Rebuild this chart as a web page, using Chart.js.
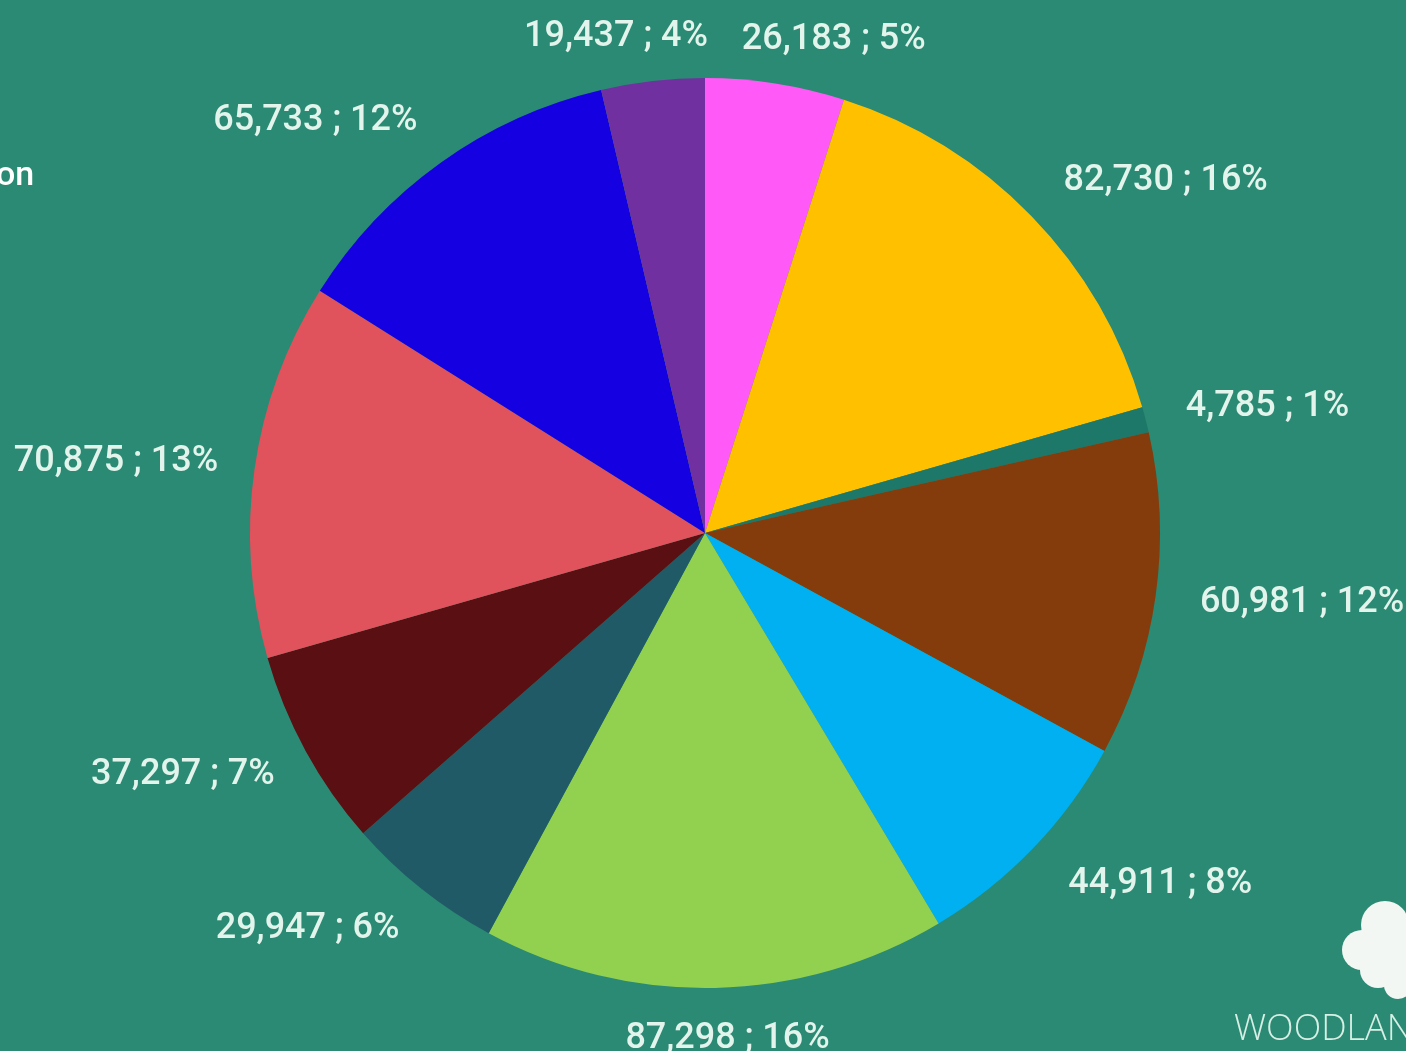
<!DOCTYPE html>
<html>
<head>
<meta charset="utf-8">
<script src="https://cdn.jsdelivr.net/npm/chart.js@4"></script>
<style>
  html, body { margin: 0; padding: 0; background: #2a8a73; overflow: hidden; }
  #wrap { width: 1406px; height: 1051px; position: relative; }
</style>
</head>
<body>
<div id="wrap"><canvas id="grafica" width="1406" height="1051"></canvas></div>
<script>
// Datos del gráfico (sentido horario desde arriba)
const valores = [26183, 82730, 4785, 60981, 44911, 87298, 29947, 37297, 70875, 65733, 19437];
const porcentajes = ['5%', '16%', '1%', '12%', '8%', '16%', '6%', '7%', '13%', '12%', '4%'];
const colores = ['#ff5af7', '#ffc000', '#1d786a', '#843c0c', '#00b0f0', '#92d050',
                 '#215a67', '#5a0f12', '#e0525c', '#1400e0', '#7030a0'];

const fmt = n => n.toLocaleString('en-US');

// pequeños ajustes de posición de etiquetas (para evitar choques, como en el original)
const ajusteX = { 0: 28, 2: -9, 5: 8, 7: 19, 8: 8, 9: -12, 10: -14 };
const ajusteY = { 0: 7, 10: 7 };

// Etiquetas fuera del pastel
const etiquetas = {
  id: 'etiquetas',
  afterDatasetsDraw(chart) {
    const ctx = chart.ctx;
    const meta = chart.getDatasetMeta(0);
    ctx.save();
    ctx.font = '500 36px Roboto, sans-serif';
    ctx.fillStyle = '#e2f4ec';
    ctx.textBaseline = 'middle';
    ctx.textAlign = 'center';
    meta.data.forEach((arc, i) => {
      const p = arc.getProps(['x', 'y', 'startAngle', 'endAngle', 'outerRadius'], true);
      const a = (p.startAngle + p.endAngle) / 2;
      const r = p.outerRadius + 36;
      const px = p.x + Math.cos(a) * r;
      const py = p.y + Math.sin(a) * r;
      const txt = fmt(valores[i]) + ' ; ' + porcentajes[i];
      const w = ctx.measureText(txt).width;
      const h = 30;
      // las etiquetas en diagonal van un poco más afuera
      const extra = 35 * Math.abs(Math.sin(2 * a)) * Math.sign(Math.cos(a));
      const cx = px + Math.cos(a) * w / 2 + extra + (ajusteX[i] || 0);
      const cy = py + Math.sin(a) * h / 2 + (ajusteY[i] || 0);
      ctx.fillText(txt, cx, cy);
    });
    // textos extra
    ctx.textAlign = 'left';
    ctx.font = '500 34px Roboto, sans-serif';
    ctx.fillStyle = '#ffffff';
    ctx.fillText('on', -4, 176);
    ctx.font = '300 36px "Open Sans", sans-serif';
    ctx.fillStyle = '#d8efe6';
    ctx.fillText('WOODLAND', 1234, 1030);
    // logo aproximado
    ctx.fillStyle = '#f2f7f4';
    [[1385, 925, 24], [1362, 950, 20], [1378, 970, 18], [1402, 955, 22], [1398, 985, 14]].forEach(c => {
      ctx.beginPath();
      ctx.arc(c[0], c[1], c[2], 0, Math.PI * 2);
      ctx.fill();
    });
    ctx.restore();
  }
};

const ctx = document.getElementById('grafica').getContext('2d');
const myChart = new Chart(ctx, {
  type: 'pie',
  data: {
    labels: valores.map(fmt),
    datasets: [{
      data: valores,
      backgroundColor: colores,
      borderWidth: 0
    }]
  },
  options: {
    responsive: false,
    animation: false,
    layout: { padding: { top: 78, bottom: 63, left: 250, right: 246 } },
    plugins: {
      legend: { display: false },
      tooltip: { enabled: false }
    }
  },
  plugins: [etiquetas]
});
</script>
</body>
</html>
